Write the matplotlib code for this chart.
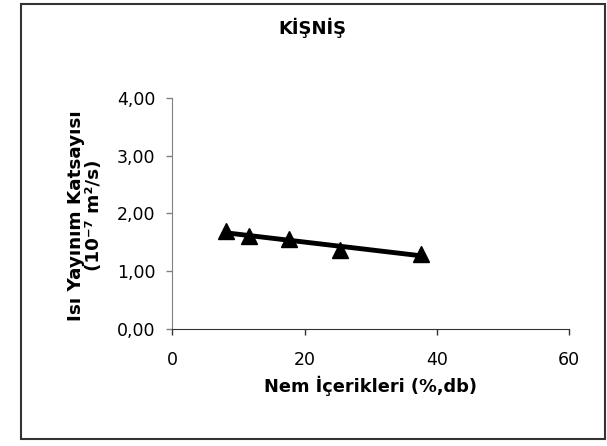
import numpy as np
import matplotlib
matplotlib.use('Agg')
import matplotlib.pyplot as plt
from matplotlib.patches import Rectangle

plt.rcParams['font.family'] = ['DejaVu Sans']

# data
nem = [8.1, 11.6, 17.7, 25.3, 37.6]          # moisture content (%, db)
alfa = [1.69, 1.60, 1.56, 1.36, 1.30]        # thermal diffusivity (1e-7 m2/s)
x_ticks = [0, 20, 40, 60]
y_ticks = [0, 1, 2, 3, 4]

fig = plt.figure(figsize=(6.07, 4.46), dpi=100)
ax = fig.add_axes([0.2839, 0.263, 0.6535, 0.517])

# linear trendline like excel
k, b = np.polyfit(nem, alfa, 1)
xs = np.array([min(nem), max(nem)])
ax.plot(xs, k * xs + b, color='black', lw=3.5, solid_capstyle='butt', zorder=2)
ax.plot(nem, alfa, linestyle='none', marker='^', ms=11.5, color='black', zorder=3)

ax.set_xlim(0, 60)
ax.set_ylim(0, 4)
ax.set_xticks(x_ticks)
ax.set_yticks(y_ticks)
ax.set_yticklabels([('%.2f' % v).replace('.', ',') for v in y_ticks])
ax.set_xticklabels([str(v) for v in x_ticks])

ax.spines['top'].set_visible(False)
ax.spines['right'].set_visible(False)
ax.spines['left'].set_color('#808080')
ax.spines['bottom'].set_color('#333333')
ax.tick_params(axis='y', colors='#808080', labelcolor='black', length=4, width=1,
               labelsize=12.5, pad=8)
ax.tick_params(axis='x', colors='#333333', labelcolor='black', length=4, width=1,
               labelsize=12.5, pad=12)

ax.set_xlabel('Nem İçerikleri (%,db)', fontsize=12.8, fontweight='bold')
ax.xaxis.set_label_coords(0.5, -0.205)
ax.set_ylabel('Isı Yayınım Katsayısı\n(10⁻⁷ m²/s)', fontsize=13.2,
              fontweight='bold', linespacing=1.05, ha='center', va='center')
ax.yaxis.set_label_coords(-0.22, 0.49)

fig.text(0.515, 0.938, 'KİŞNİŞ', fontsize=13, fontweight='bold',
         ha='center', va='center')

# chart area border
fig.patches.append(Rectangle((20.5 / 607, 1 - 438.5 / 446), 584.5 / 607, 434.8 / 446,
                             transform=fig.transFigure, fill=False,
                             edgecolor='#333333', lw=1.5))

fig.savefig('out.png', dpi=100)
